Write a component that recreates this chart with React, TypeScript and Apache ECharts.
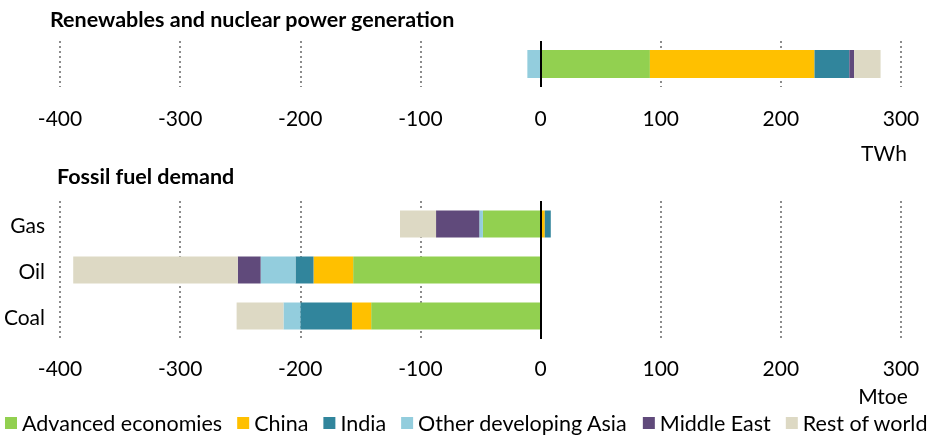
import React, { useEffect, useRef } from "react";
import * as echarts from "echarts";

const regions = [
  "Advanced economies",
  "China",
  "India",
  "Other developing Asia",
  "Middle East",
  "Rest of world",
];
const regionColors = ["#92D050", "#FFC000", "#31859C", "#93CDDD", "#604A7B", "#DDD9C4"];

// Renewables and nuclear power generation (TWh), per region
const renewablesCategory = ["Power"];
const renewablesValues = [91, 137, 29, -11, 4, 22];

// Fossil fuel demand (Mtoe)
const fuels = ["Gas", "Oil", "Coal"];
const advancedFossil = [-48, -156, -141];
const chinaFossil = [3.5, -33, -16];
const indiaFossil = [5, -15, -43];
const otherAsiaFossil = [-3, -29, -14];
const middleEastFossil = [-36, -19, 0];
const restFossil = [-30, -137, -39];
const fossilByRegion = [
  advancedFossil,
  chinaFossil,
  indiaFossil,
  otherAsiaFossil,
  middleEastFossil,
  restFossil,
];

const axisMin = -400;
const axisMax = 300;
const axisInterval = 100;

const FONT = "Lato, 'Liberation Sans', sans-serif";

export default function App() {
  const ref = useRef<HTMLDivElement>(null);

  useEffect(() => {
    if (!ref.current) return;
    const chart = echarts.init(ref.current, null, { renderer: "svg" });

    const splitLine = {
      show: true,
      lineStyle: { color: "#8c8c8c", width: 2, type: [2, 3] as any },
    };
    const zeroLine = {
      silent: true,
      symbol: ["none", "none"],
      label: { show: false },
      lineStyle: { color: "#000", width: 2, type: "solid" },
      data: [{ xAxis: 0 }],
    };

    const xAxisBase = (gridIndex: number, margin: number) => ({
      type: "value",
      gridIndex,
      min: axisMin,
      max: axisMax,
      interval: axisInterval,
      axisLine: { show: false },
      axisTick: { show: false },
      splitLine,
      axisLabel: {
        margin,
        fontSize: 21,
        fontFamily: FONT,
        color: "#000",
      },
    });

    const topSeries = regions.map((name, i) => ({
      name,
      type: "bar",
      stack: "top",
      xAxisIndex: 0,
      yAxisIndex: 0,
      barWidth: 28,
      itemStyle: { color: regionColors[i] },
      data: [renewablesValues[i]],
      markLine: i === 0 ? zeroLine : undefined,
    }));

    const bottomSeries = regions.map((name, i) => ({
      name,
      type: "bar",
      stack: "bottom",
      xAxisIndex: 1,
      yAxisIndex: 1,
      barWidth: 27,
      itemStyle: { color: regionColors[i] },
      data: fossilByRegion[i],
      markLine: i === 0 ? zeroLine : undefined,
    }));

    chart.setOption({
      animation: false,
      textStyle: { fontFamily: FONT },
      grid: [
        { left: 60, right: 28, top: 41, height: 46 },
        { left: 60, right: 28, top: 201, height: 138 },
      ],
      xAxis: [xAxisBase(0, 20), xAxisBase(1, 18)],
      yAxis: [
        {
          type: "category",
          gridIndex: 0,
          data: renewablesCategory,
          axisLine: { show: false, onZero: false },
          axisTick: { show: false },
          axisLabel: { show: false },
        },
        {
          type: "category",
          gridIndex: 1,
          data: fuels,
          inverse: true,
          axisLine: { show: false, onZero: false },
          axisTick: { show: false },
          axisLabel: {
            margin: 15,
            fontSize: 21,
            fontFamily: FONT,
            color: "#000",
          },
        },
      ],
      legend: {
        data: regions,
        left: 5,
        top: 412,
        padding: 0,
        icon: "rect",
        itemWidth: 12,
        itemHeight: 12,
        itemGap: 15,
        selectedMode: false,
        textStyle: { fontSize: 21.5, fontFamily: FONT, color: "#000" },
      },
      graphic: [
        {
          type: "text",
          style: {
            text: "Renewables and nuclear power generation",
            x: 50,
            y: 19,
            fill: "#000",
            fontSize: 21.5,
            fontWeight: "bold",
            fontFamily: FONT,
            align: "left",
            verticalAlign: "middle",
          },
        },
        {
          type: "text",
          style: {
            text: "Fossil fuel demand",
            x: 57,
            y: 176,
            fill: "#000",
            fontSize: 21.5,
            fontWeight: "bold",
            fontFamily: FONT,
            align: "left",
            verticalAlign: "middle",
          },
        },
        {
          type: "text",
          style: {
            text: "TWh",
            x: 884,
            y: 152,
            fill: "#000",
            fontSize: 21,
            fontFamily: FONT,
            align: "center",
            verticalAlign: "middle",
          },
        },
        {
          type: "text",
          style: {
            text: "Mtoe",
            x: 883,
            y: 395,
            fill: "#000",
            fontSize: 21,
            fontFamily: FONT,
            align: "center",
            verticalAlign: "middle",
          },
        },
      ],
      series: [...topSeries, ...bottomSeries],
    });

    return () => chart.dispose();
  }, []);

  return (
    <div
      ref={ref}
      style={{ position: "fixed", left: 0, top: 0, width: 929, height: 438 }}
    />
  );
}
